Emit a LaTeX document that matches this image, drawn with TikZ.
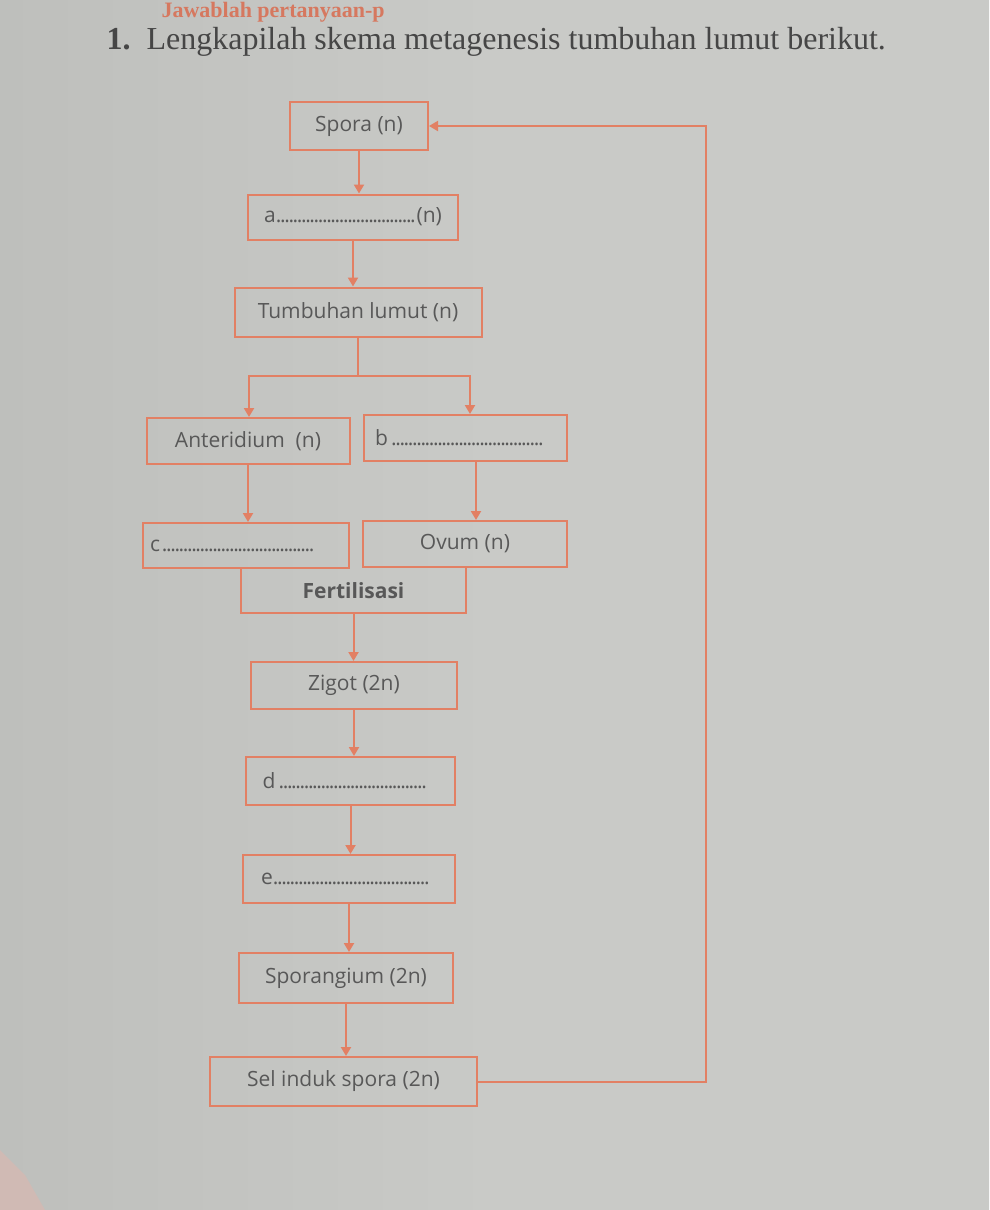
\documentclass[tikz,border=0pt]{standalone}
\usepackage{fontspec}
\setmainfont{Liberation Serif}
\newfontfamily\boxfont{Open Sans}
\usetikzlibrary{arrows.meta}
\definecolor{page}{RGB}{201,202,199}
\definecolor{pagedark}{RGB}{190,191,188}
\definecolor{line}{RGB}{226,128,100}
\definecolor{txt}{RGB}{88,88,88}
\definecolor{head}{RGB}{214,120,95}
\definecolor{pinkish}{RGB}{208,186,180}
\tikzset{
  box/.style={draw=line, line width=2pt, inner sep=0pt, font=\boxfont\fontsize{21}{24}\selectfont, text=txt},
  flow/.style={draw=line, line width=2pt, -{Triangle[width=10pt,length=9pt]}},
  link/.style={draw=line, line width=2pt},
}
\newcommand{\blank}[3]{\hbox to #1pt{#2\leaders\hbox to 4.2pt{\hss.\hss}\hfill#3}}
\begin{document}
\begin{tikzpicture}[x=1pt,y=-1pt]
\path[use as bounding box, left color=pagedark, right color=page, middle color=page] (0,0) rectangle (989,1210);
\fill[pinkish] (0,1150) -- (25,1175) -- (45,1210) -- (0,1210) -- cycle;
% header
\node[anchor=west, font=\bfseries\fontsize{22}{26}\selectfont, text=head] (hd) at (158,12) {Jawablah pertanyaan-p};
\node[anchor=west, font=\fontsize{32}{36}\selectfont, text=txt!80!black] (q) at (103,42) {\textbf{1.}\hspace{16pt}Lengkapilah skema metagenesis tumbuhan lumut berikut.};
% boxes
\node[box, minimum width=138pt, minimum height=48pt] (spora) at (359,126) {Spora (n)};
\node[box, minimum width=210pt, minimum height=45pt] (a) at (353,217) {\blank{178}{a}{(n)}};
\node[box, minimum width=247pt, minimum height=49pt] (tl) at (358,312) {Tumbuhan lumut (n)};
\node[box, minimum width=203pt, minimum height=46pt] (ant) at (248,441) {Anteridium\ \ (n)};
\node[box, minimum width=203pt, minimum height=46pt] (b) at (465,438) {\hbox to 184pt{\hspace{2pt}\blank{168}{b}{}\hss}};
\node[box, minimum width=206pt, minimum height=45pt] (c) at (246,545.5) {\hbox to 184pt{\hspace{-4pt}\blank{164}{c}{}\hss}};
\node[box, minimum width=204pt, minimum height=46pt] (ov) at (465,544) {Ovum (n)};
\node[inner sep=0pt, minimum width=225pt, minimum height=45pt, font=\boxfont\bfseries\fontsize{21}{24}\selectfont, text=txt] (fert) at (353.5,590.5) {Fertilisasi};
\draw[link] (fert.north west) -- (fert.south west) -- (fert.south east) -- (fert.north east);
\node[box, minimum width=206pt, minimum height=47pt] (zig) at (354,685.5) {Zigot (2n)};
\node[box, minimum width=209pt, minimum height=48pt] (d) at (350.5,781) {\hbox to 184pt{\hspace{4pt}\blank{166}{d}{}\hss}};
\node[box, minimum width=212pt, minimum height=48pt] (e) at (349,879) {\hbox to 184pt{\hspace{4pt}\blank{168}{e}{}\hss}};
\node[box, minimum width=214pt, minimum height=50pt] (spg) at (346,978) {Sporangium (2n)};
\node[box, minimum width=267pt, minimum height=49pt] (sel) at (343.5,1081.5) {Sel induk spora (2n)};
% connectors
\draw[flow] (spora.south) -- (spora.south |- a.north);
\draw[flow] (a.south) -- (a.south |- tl.north);
\coordinate (br) at (358,376);
\coordinate (brl) at (249,376);
\coordinate (brr) at (470,376);
\draw[link] (tl.south) -- (br);
\draw[flow] (br) -- (brl) -- (brl |- ant.north);
\draw[flow] (br) -- (brr) -- (brr |- b.north);
\draw[flow] (ant.south) -- (ant.south |- c.north);
\draw[flow] ([xshift=11pt]b.south) -- ([xshift=11pt]b.south |- ov.north);
\draw[flow] (fert.south) -- (fert.south |- zig.north);
\draw[flow] (zig.south) -- (zig.south |- d.north);
\draw[flow] (d.south) -- (d.south |- e.north);
\draw[flow] (e.south) -- (e.south |- spg.north);
\draw[flow] (spg.south) -- (spg.south |- sel.north);
\coordinate (rc) at (706,1081.5);
\draw[flow] (sel.east) -- (rc) |- (spora.east);
\end{tikzpicture}
\end{document}
